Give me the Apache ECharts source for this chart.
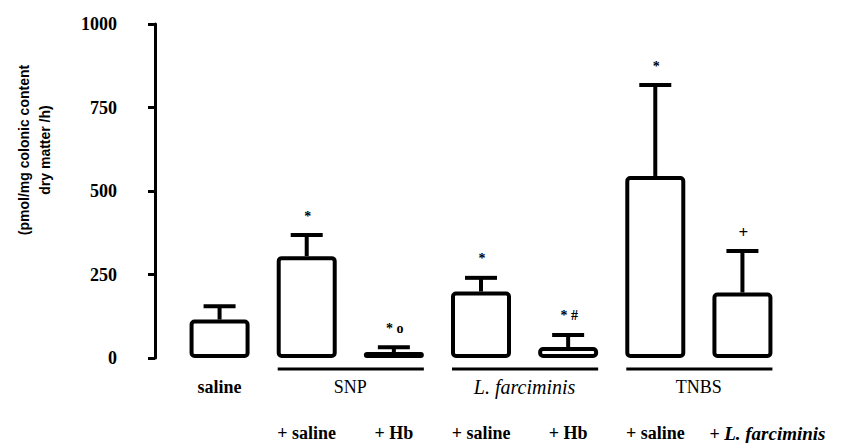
<!DOCTYPE html>
<html><head><meta charset="utf-8">
<script src="https://cdn.jsdelivr.net/npm/echarts@6/dist/echarts.min.js"></script>
<style>html,body{margin:0;padding:0;background:#fff}#c{width:841px;height:443px}</style>
</head><body><div id="c"></div>
<script>
const categories = ['saline', 'SNP + saline', 'SNP + Hb', 'L. farciminis + saline', 'L. farciminis + Hb', 'TNBS + saline', 'TNBS + L. farciminis'];
const treatmentLabels = ['', '+ saline', '+ Hb', '+ saline', '+ Hb', '+ saline', '+ L. farciminis'];
const means = [115, 305, 18, 199, 33, 545, 196];
const errorTops = [155, 368, 32, 240, 69, 817, 320];
const significance = ['', '*', '* o', '*', '* #', '*', '+'];
const groupNames = ['saline', 'SNP', 'L. farciminis', 'TNBS'];
const groupFirst = [0, 1, 3, 5];
const groupLast = [0, 2, 4, 6];
const yMin = 0, yMax = 1000, yStep = 250;
const yTitle = '(pmol/mg colonic content\ndry matter /h)';

const SERIF = '"Liberation Serif", "Times New Roman", serif';
const chart = echarts.init(document.getElementById('c'), null, {renderer: 'svg'});

function groupStyle(i) {
  const name = groupNames[i];
  if (i === 0) return {fontWeight: 'bold', fontStyle: 'normal', fontSize: 18};
  if (name.indexOf('L.') === 0) return {fontWeight: 'normal', fontStyle: 'italic', fontSize: 20};
  return {fontWeight: 'normal', fontStyle: 'normal', fontSize: 18};
}

const option = {
  animation: false,
  backgroundColor: '#fff',
  grid: {left: 176, right: 55, top: 24, bottom: 82},
  graphic: [{
    type: 'text', x: 34, y: 150, rotation: Math.PI / 2,
    style: {text: yTitle, fontFamily: '"Liberation Sans", Arial, sans-serif', fontWeight: 'bold', fontSize: 14,
      fill: '#000', textAlign: 'center', textVerticalAlign: 'middle', lineHeight: 21}
  }],
  xAxis: {
    type: 'category', data: categories,
    axisLine: {show: false}, axisTick: {show: false},
    axisLabel: {
      interval: 0, margin: 66, color: '#000',
      fontFamily: SERIF, fontWeight: 'bold', fontSize: 18,
      formatter: function (v, i) {
        const t = treatmentLabels[i];
        const k = t.indexOf('L. farciminis');
        if (k >= 0) return '{p|' + t.slice(0, k) + '}{it|' + t.slice(k) + '}';
        return t;
      },
      rich: {
        p: {fontFamily: SERIF, fontWeight: 'bold', fontSize: 18, padding: [0, 0, 0, 50]},
        it: {fontFamily: SERIF, fontWeight: 'bold', fontStyle: 'italic', fontSize: 19}
      }
    }
  },
  yAxis: {
    type: 'value', min: yMin, max: yMax, interval: yStep, offset: 21,
    splitLine: {show: false},
    axisLine: {show: true, lineStyle: {color: '#000', width: 3}},
    axisTick: {show: true, length: 7, lineStyle: {color: '#000', width: 3}},
    axisLabel: {margin: 38, color: '#000', fontFamily: SERIF, fontWeight: 'bold', fontSize: 18,
      formatter: function (v) { return String(v); }}
  },
  series: [
    {
      type: 'bar', data: means, barWidth: 60, z: 2,
      itemStyle: {color: '#fff', borderColor: '#000', borderWidth: 4, borderRadius: 3}
    },
    {
      type: 'custom', z: 3, clip: false,
      data: means.map((m, i) => [i, m, errorTops[i]]),
      encode: {x: 0, y: [1, 2]},
      renderItem: function (params, api) {
        const i = api.value(0);
        const p0 = api.coord([i, api.value(1)]);
        const p1 = api.coord([i, api.value(2)]);
        const hw = 16;
        const children = [
          {type: 'line', shape: {x1: p0[0], y1: p0[1], x2: p1[0], y2: p1[1]}, style: {stroke: '#000', lineWidth: 4}},
          {type: 'line', shape: {x1: p1[0] - hw, y1: p1[1], x2: p1[0] + hw, y2: p1[1]}, style: {stroke: '#000', lineWidth: 4}}
        ];
        const s = significance[params.dataIndex];
        if (s) {
          children.push({type: 'text', style: {text: s, x: p1[0] + 1, y: p1[1] - 19,
            fontFamily: SERIF, fontWeight: 'bold', fontSize: (s === '+' ? 17 : 14),
            fill: '#000', textAlign: 'center', textVerticalAlign: 'middle'}});
        }
        return {type: 'group', children: children};
      }
    },
    {
      type: 'custom', z: 3, clip: false, silent: true,
      data: groupFirst.map((f, i) => [f, groupLast[i], 0]),
      encode: {x: [0, 1], y: 2},
      renderItem: function (params, api) {
        const a = api.coord([api.value(0), 0]);
        const b = api.coord([api.value(1), 0]);
        const idx = params.dataIndex;
        const gs = groupStyle(idx);
        const children = [
          {type: 'text', style: Object.assign({text: groupNames[idx], x: (a[0] + b[0]) / 2, y: a[1] + 29,
            fontFamily: SERIF, fill: '#000', textAlign: 'center', textVerticalAlign: 'middle'}, gs)}
        ];
        if (groupLast[idx] > groupFirst[idx]) {
          children.push({type: 'line', shape: {x1: a[0] - 29, y1: a[1] + 11, x2: b[0] + 30, y2: a[1] + 11},
            style: {stroke: '#000', lineWidth: 3}});
        }
        return {type: 'group', children: children};
      }
    }
  ]
};
chart.setOption(option);
</script>
</body></html>
